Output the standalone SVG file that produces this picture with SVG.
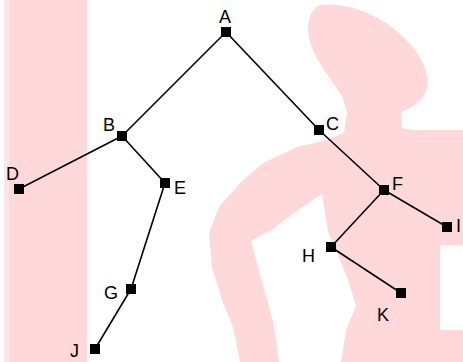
<svg xmlns="http://www.w3.org/2000/svg" width="463" height="362" viewBox="0 0 463 362">
  <style>
    .bg { fill: #ffd9d9; stroke: none; }
    .edge { stroke: #000; stroke-width: 1.6; fill: none; }
    .node rect { fill: #000; }
    .node text { font-family: "Liberation Sans", Arial, sans-serif; font-size: 18px; fill: #000; }
  </style>

  <rect width="463" height="362" fill="#fff"/>

  <!-- background figure -->
  <g id="backdrop">
    <rect x="4" y="0" width="5" height="362" fill="#ffe6e6"/>
    <rect class="bg" x="9" y="0" width="78" height="362"/>
    <path class="bg" d="M 320,5 C 350,2 380,16 400,34 C 420,52 430,72 427,88 C 424,100 412,108 401,112 L 402,128 L 413,130 L 463,130 L 463,245 L 440,245 L 440,330 L 463,330 L 463,362 L 341,362 L 346,330 L 356,306 L 348,280 L 338,255 L 328,232 L 322,194 L 298,210 L 271,230 L 251,241 L 262,282 L 273,321 L 279,362 L 240,362 L 233,327 L 222,300 L 212,267 L 209,233 L 219,207 L 240,183 L 263,163 L 297,147 L 327,140 L 344,133 L 347,112 L 342,96 C 332,80 318,64 312,48 C 306,32 306,12 320,5 Z"/>
  </g>

  <!-- connectors -->
  <g id="edges" class="edge">
    <line x1="226" y1="32" x2="122" y2="136"/>
    <line x1="226" y1="32" x2="319" y2="130"/>
    <line x1="122" y1="136" x2="19" y2="189"/>
    <line x1="122" y1="136" x2="165" y2="183"/>
    <line x1="165" y1="183" x2="131" y2="289"/>
    <line x1="131" y1="289" x2="95" y2="349"/>
    <line x1="319" y1="130" x2="384" y2="190"/>
    <line x1="384" y1="190" x2="331" y2="247"/>
    <line x1="384" y1="190" x2="447" y2="227"/>
    <line x1="331" y1="247" x2="401" y2="293"/>
  </g>

  <!-- nodes -->
  <g id="node-A" class="node"><rect x="221" y="27" width="10" height="10"/><text x="225" y="23" text-anchor="middle">A</text></g>
  <g id="node-B" class="node"><rect x="117" y="131" width="10" height="10"/><text x="103" y="131">B</text></g>
  <g id="node-C" class="node"><rect x="314" y="125" width="10" height="10"/><text x="326" y="130">C</text></g>
  <g id="node-D" class="node"><rect x="14" y="184" width="10" height="10"/><text x="6" y="180">D</text></g>
  <g id="node-E" class="node"><rect x="160" y="178" width="10" height="10"/><text x="174" y="194">E</text></g>
  <g id="node-F" class="node"><rect x="379" y="185" width="10" height="10"/><text x="392" y="190">F</text></g>
  <g id="node-G" class="node"><rect x="126" y="284" width="10" height="10"/><text x="104" y="299">G</text></g>
  <g id="node-H" class="node"><rect x="326" y="242" width="10" height="10"/><text x="302" y="262">H</text></g>
  <g id="node-I" class="node"><rect x="442" y="222" width="10" height="10"/><text x="456" y="232">I</text></g>
  <g id="node-J" class="node"><rect x="90" y="344" width="10" height="10"/><text x="70" y="357">J</text></g>
  <g id="node-K" class="node"><rect x="396" y="288" width="10" height="10"/><text x="377" y="321">K</text></g>
</svg>
